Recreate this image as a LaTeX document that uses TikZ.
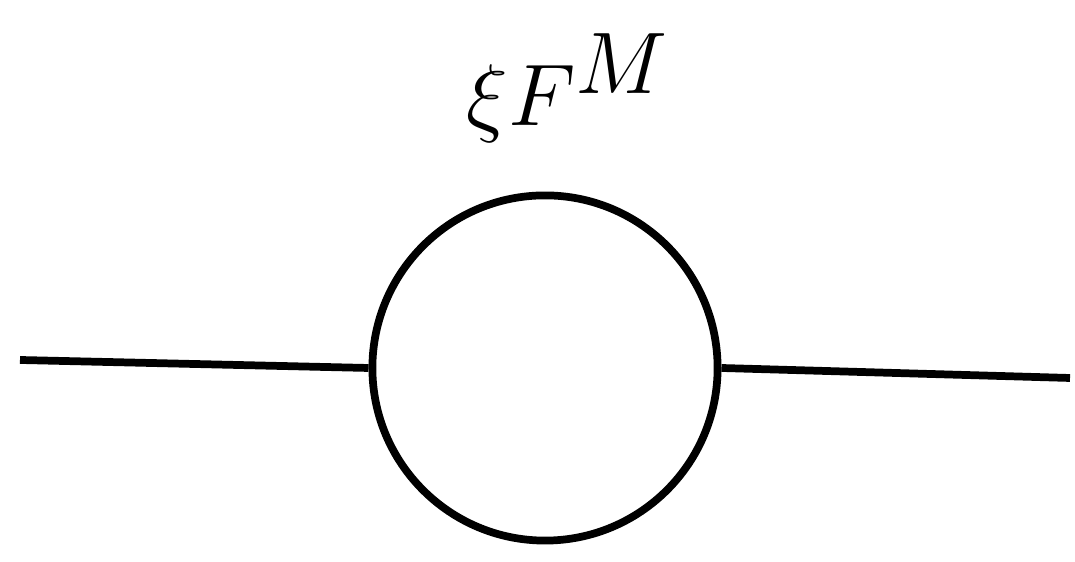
\documentclass[tikz,border=0pt]{standalone}
\usepackage{amsmath,amssymb}
\usetikzlibrary{calc}

\begin{document}
\begin{tikzpicture}[x=0.01cm,y=-0.01cm,line width=2.2pt]
  \useasboundingbox (0,0) rectangle (1075,562);

  % loop
  \node[draw,circle,minimum size=3.45cm,inner sep=0pt] (loop) at (545,368) {};

  % external legs
  \coordinate (inL) at (20,360);
  \coordinate (outR) at (1070,378);
  \draw (inL) -- (loop.west);
  \draw (loop.east) -- (outR);

  % label
  \node[font=\fontsize{40}{44}\selectfont] (lbl) at (568,88) {$\xi F^{M}$};
\end{tikzpicture}
\end{document}
